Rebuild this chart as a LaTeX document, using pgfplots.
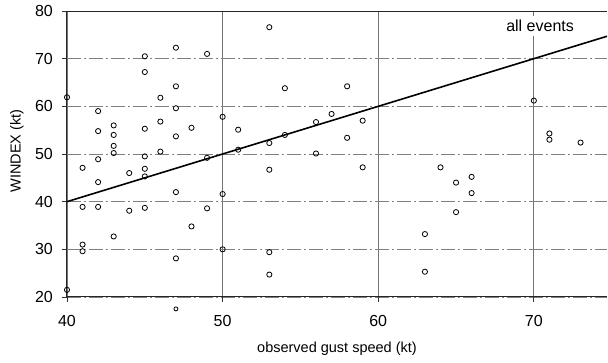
\documentclass[border=0pt]{standalone}
\usepackage{fontspec}
\setmainfont{Liberation Sans}
\usepackage{pgfplots}
\pgfplotsset{compat=1.18}
\usetikzlibrary{calc}
\pgfplotstableread{
x y
40 61.9
40 21.5
41 47.1
41 38.9
41 31.0
41 29.6
42 59.0
42 54.8
42 48.9
42 44.1
42 38.9
43 56.0
43 54.0
43 51.7
43 50.2
43 32.7
44 46.0
44 38.1
45 70.5
45 67.2
45 55.3
45 49.5
45 46.9
45 45.3
45 38.7
46 61.8
46 56.8
46 50.5
47 72.3
47 64.2
47 59.6
47 53.7
47 42.0
47 28.1
48 55.5
48 34.8
49 71.0
49 49.2
49 38.6
50 57.8
50 41.6
50 30.0
51 55.1
51 50.9
53 76.6
53 52.3
53 46.7
53 29.4
53 24.7
54 63.8
54 54.0
56 56.7
56 50.1
57 58.4
58 64.2
58 53.4
59 57.0
59 47.2
63 33.2
63 25.3
64 47.2
65 44.0
65 37.8
66 45.2
66 41.8
70 61.2
71 54.3
71 53.0
73 52.4
}\gust
\begin{document}
\fontsize{15}{18}\selectfont
\begin{tikzpicture}
\begin{axis}[
  scale only axis, width=540pt, height=286pt,
  xmin=40, xmax=74.7, ymin=20, ymax=80,
  axis x line=box, axis y line=left,
  axis line style={-, line width=1pt, black!85},
  xtick={40,50,60,70}, ytick={20,30,...,80},
  xtick pos=bottom, ytick pos=left,
  tick align=outside, major tick length=5pt,
  tick style={black!80, line width=0.8pt},
  xmajorgrids, ymajorgrids,
  major x grid style={black!55, line width=0.9pt},
  major y grid style={black!50, line width=0.9pt, dash pattern=on 14pt off 3pt on 2pt off 3pt},
  /pgf/number format/assume math mode=true,
  ticklabel style={font=\fontsize{16}{19}\selectfont},
  xticklabel style={anchor=center, yshift=-19pt},
  yticklabel style={anchor=center, xshift=-18pt},
  xlabel={observed gust speed (kt)},
  ylabel={WINDEX (kt)},
  xlabel style={at={(axis description cs:0.5,-0.182)}, anchor=center, font=\fontsize{14.5}{17}\selectfont},
  ylabel style={at={(axis description cs:-0.093,0.51)}, anchor=center, font=\fontsize{14.5}{17}\selectfont},
  clip=false,
]
\addplot[black, line width=1.6pt, no marks] coordinates {(40,40) (74.7,74.7)};
\addplot[only marks, mark=o, mark size=2.6pt, mark options={line width=0.8pt, fill=white, black}] table[x=x,y=y] {\gust};
\addplot[only marks, mark=o, mark size=2.0pt, mark options={line width=0.8pt, fill=white, black}] coordinates {(47,17.5)};
\node[fill=white, inner xsep=2pt, inner ysep=4pt, font=\fontsize{16}{19}\selectfont] at (axis cs:70.4,76.9) {all events};
\end{axis}
\path ($(current axis.south west)+(-67pt,-66pt)$) rectangle ($(current axis.north east)+(1pt,11pt)$);
\end{tikzpicture}
\end{document}
